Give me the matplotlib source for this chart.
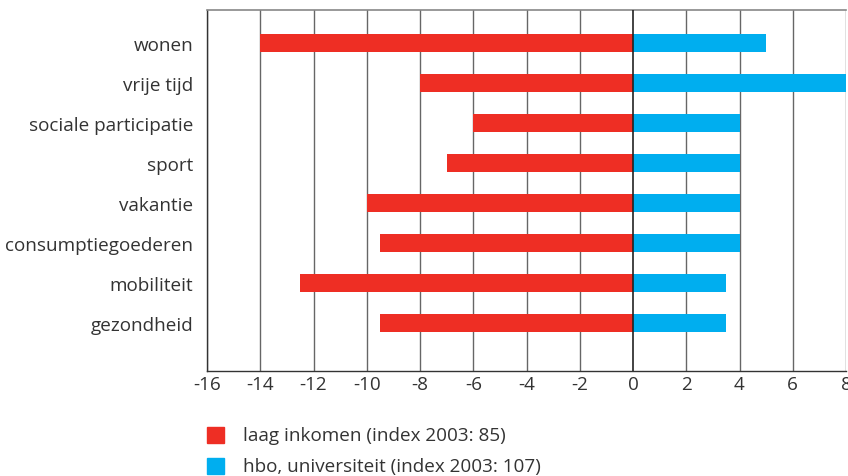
import matplotlib
matplotlib.use("Agg")
import matplotlib.pyplot as plt
from matplotlib.patches import Rectangle

categories = ["wonen", "vrije tijd", "sociale participatie", "sport", "vakantie",
              "consumptiegoederen", "mobiliteit", "gezondheid"]
laag_inkomen = [-14, -8, -6, -7, -10, -9.5, -12.5, -9.5]
hbo_univ = [5, 8, 4, 4, 4, 4, 3.5, 3.5]
xticks = list(range(-16, 9, 2))
legend_labels = ["laag inkomen (index 2003: 85)", "hbo, universiteit (index 2003: 107)"]

RED = "#EE2E24"
BLUE = "#00AEEF"
TXT = "#333333"
FS = 13.6

plt.rcParams['font.family'] = ['Open Sans', 'DejaVu Sans']

fig = plt.figure(figsize=(8.48, 4.77), dpi=100)
ax = fig.add_axes([207/848, 1 - 372/477, 639/848, 361/477])

y = list(range(len(categories)))
ax.barh(y, laag_inkomen, height=0.45, color=RED, zorder=3)
ax.barh(y, hbo_univ, height=0.45, color=BLUE, zorder=3)

ax.set_xlim(-16, 8)
ax.set_ylim(8.2, -0.83)
ax.set_xticks(xticks)
ax.set_xticklabels([str(t) for t in xticks], fontsize=FS, color=TXT)
ax.set_yticks(y)
ax.set_yticklabels(categories, fontsize=FS, color=TXT)
ax.tick_params(axis='x', length=0, pad=3)
ax.tick_params(axis='y', length=0, pad=10)

for t in xticks:
    if t == 0:
        ax.axvline(t, color="#222222", lw=1.2, zorder=4)
    else:
        ax.axvline(t, color="#666666", lw=1.0, zorder=1)

ax.spines["top"].set_color("#888888")
ax.spines["top"].set_linewidth(1.2)
for s in ["left", "bottom"]:
    ax.spines[s].set_color("#333333")
    ax.spines[s].set_linewidth(1.0)
ax.spines["right"].set_visible(False)

# legend
for i, (lab, col) in enumerate(zip(legend_labels, [RED, BLUE])):
    yc = 1 - (436 + i * 31) / 477
    fig.patches.append(Rectangle((207/848, yc - 8/477), 17/848, 16/477,
                                 transform=fig.transFigure, color=col, figure=fig))
    fig.text(243/848, yc, lab, fontsize=FS, color=TXT, va='center', ha='left')

fig.savefig("out.png", dpi=100)
